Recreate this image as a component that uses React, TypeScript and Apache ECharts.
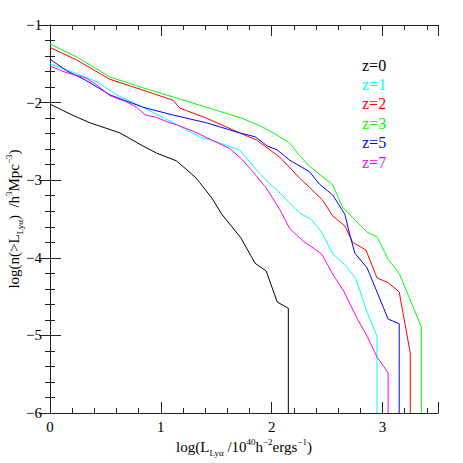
import React, { useEffect, useRef } from "react";
import * as echarts from "echarts";

const seriesNames = ["z=0", "z=1", "z=2", "z=3", "z=5", "z=7"];
const seriesColors = ["#000000", "#00ffff", "#ff0000", "#00ff00", "#0000ff", "#ff00ff"];

const z0 = [[0,-2.02],[0.2,-2.16],[0.36,-2.26],[0.63,-2.39],[0.84,-2.56],[0.96,-2.65],[1.14,-2.75],[1.31,-2.96],[1.35,-3.03],[1.46,-3.23],[1.55,-3.44],[1.72,-3.74],[1.85,-4.07],[1.95,-4.17],[2.05,-4.57],[2.15,-4.65],[2.15,-6]];
const z1 = [[0,-1.5],[0.21,-1.61],[0.42,-1.73],[0.6,-1.9],[0.84,-2.06],[1.11,-2.26],[1.35,-2.44],[1.53,-2.52],[1.71,-2.61],[1.92,-2.96],[2.05,-3.13],[2.16,-3.29],[2.25,-3.42],[2.36,-3.51],[2.45,-3.67],[2.55,-3.95],[2.66,-4.09],[2.76,-4.27],[2.86,-4.7],[2.95,-5.01],[2.95,-6]];
const z2 = [[0,-1.29],[0.24,-1.45],[0.54,-1.7],[0.84,-1.84],[1.11,-1.97],[1.17,-2.07],[1.41,-2.2],[1.71,-2.39],[1.86,-2.48],[2.07,-2.7],[2.25,-2.97],[2.34,-3.09],[2.46,-3.26],[2.55,-3.46],[2.66,-3.59],[2.73,-3.8],[2.85,-3.9],[2.95,-4.26],[3.05,-4.32],[3.15,-4.44],[3.25,-5.23],[3.25,-6]];
const z3 = [[0,-1.245],[0.24,-1.41],[0.54,-1.67],[0.84,-1.81],[1.14,-1.94],[1.41,-2.06],[1.73,-2.2],[1.91,-2.31],[2.05,-2.42],[2.16,-2.52],[2.25,-2.68],[2.34,-2.82],[2.55,-3.06],[2.64,-3.35],[2.86,-3.67],[2.95,-3.73],[3.05,-4.02],[3.15,-4.2],[3.35,-4.89],[3.35,-6]];
const z5 = [[0,-1.44],[0.15,-1.59],[0.32,-1.71],[0.54,-1.9],[0.84,-2.06],[1.11,-2.16],[1.41,-2.26],[1.71,-2.39],[1.85,-2.44],[1.96,-2.56],[2.05,-2.61],[2.16,-2.74],[2.34,-2.89],[2.43,-3.05],[2.55,-3.19],[2.66,-3.44],[2.7,-3.68],[2.75,-3.94],[2.86,-4.13],[2.95,-4.44],[3.05,-4.79],[3.15,-4.85],[3.15,-6]];
const z7 = [[0,-1.53],[0.14,-1.61],[0.32,-1.68],[0.42,-1.77],[0.54,-1.91],[0.69,-1.99],[0.78,-2.06],[0.86,-2.16],[0.96,-2.19],[1.06,-2.25],[1.15,-2.29],[1.31,-2.38],[1.44,-2.47],[1.62,-2.59],[1.73,-2.73],[1.83,-2.89],[1.95,-3.1],[2.07,-3.37],[2.16,-3.62],[2.28,-3.78],[2.45,-3.95],[2.55,-4.21],[2.65,-4.43],[2.77,-4.78],[2.86,-5.01],[2.95,-5.28],[3.05,-5.48],[3.05,-6]];
const seriesData = [z0, z1, z2, z3, z5, z7];

const xMin = 0, xMax = 3.5, yMin = -6, yMax = -1;

const FONT = "Liberation Serif";
const AX = "#222";

function fmt(v: number) {
  return v < 0 ? "\u2212" + Math.abs(v) : String(v);
}

const rich = {
  n: { fontFamily: FONT, fontSize: 15, color: "#000", lineHeight: 20, verticalAlign: "middle" as const },
  sub: { fontFamily: FONT, fontSize: 9, color: "#000", lineHeight: 9, verticalAlign: "bottom" as const },
  sup: { fontFamily: FONT, fontSize: 9, color: "#000", lineHeight: 9, verticalAlign: "top" as const },
};

export default function App() {
  const ref = useRef<HTMLDivElement>(null);
  useEffect(() => {
    if (!ref.current) return;
    const chart = echarts.init(ref.current, null, { renderer: "svg" });
    const axisCommon = {
      type: "value" as const,
      axisLine: { show: true, lineStyle: { color: AX, width: 1 } },
      axisTick: { show: true, inside: true, length: 11, lineStyle: { color: AX } },
      minorTick: { show: true, splitNumber: 5, length: 5, lineStyle: { color: AX } },
      splitLine: { show: false },
    };
    chart.setOption({
      animation: false,
      grid: { left: 50, right: 25, top: 25, bottom: 50, containLabel: false, outerBoundsMode: "none" },
      xAxis: [
        {
          ...axisCommon,
          min: xMin, max: xMax, interval: 1, position: "bottom",
          axisLabel: { fontFamily: FONT, fontSize: 15, color: "#000", margin: 6, formatter: (v: number) => (v > 3 ? "" : fmt(v)) },
          name: "{n|log(L}{sub|Ly\u03b1}{n| /10}{sup|40}{n|h}{sup|\u22122}{n|ergs}{sup|\u22121}{n|)}",
          nameLocation: "middle", nameGap: 24, nameMoveOverlap: false,
          nameTextStyle: { rich },
        },
        {
          ...axisCommon,
          min: xMin, max: xMax, interval: 1, position: "top",
          axisLabel: { show: false },
        },
      ],
      yAxis: [
        {
          ...axisCommon,
          min: yMin, max: yMax, interval: 1, position: "left",
          axisLabel: { fontFamily: FONT, fontSize: 15, color: "#000", margin: 8, formatter: fmt },
          name: "{n|log(n(>L}{sub|Ly\u03b1}{n|)  /h}{sup|3}{n|Mpc}{sup|\u22123}{n|)}",
          nameLocation: "middle", nameGap: 26, nameRotate: 90, nameMoveOverlap: false,
          nameTextStyle: { rich },
        },
        {
          ...axisCommon,
          min: yMin, max: yMax, interval: 1, position: "right",
          axisLabel: { show: false },
        },
      ],
      series: seriesData.map((d, i) => ({
        type: "line",
        name: seriesNames[i],
        data: d,
        showSymbol: false,
        symbol: "none",
        lineStyle: { color: seriesColors[i], width: 1 },
        itemStyle: { color: seriesColors[i] },
      })),
      graphic: seriesNames.map((name, i) => ({
        type: "text",
        left: 362,
        top: 57 + i * 19.4,
        style: { text: name, fill: seriesColors[i], font: `16px '${FONT}'` },
      })),
    });
    return () => chart.dispose();
  }, []);
  return <div ref={ref} style={{ position: "absolute", left: 0, top: 0, width: 463, height: 463 }} />;
}
